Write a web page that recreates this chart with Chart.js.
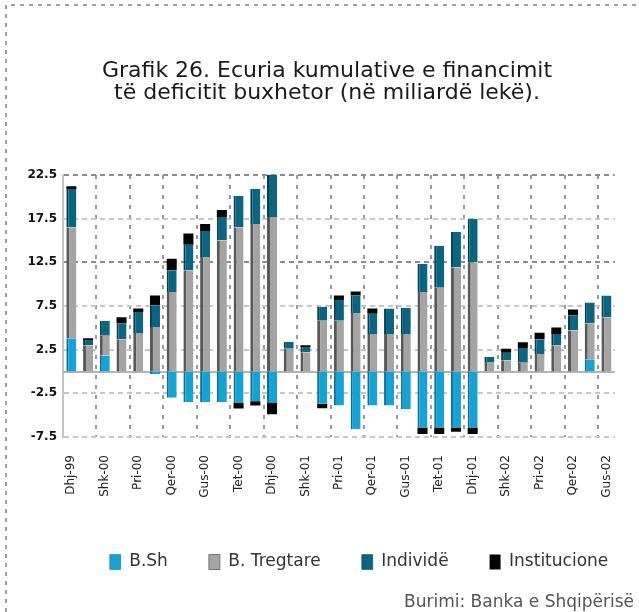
<!DOCTYPE html>
<html>
<head>
<meta charset="utf-8">
<script src="https://cdn.jsdelivr.net/npm/chart.js@4.4.0/dist/chart.umd.min.js"></script>
<style>
html,body{margin:0;padding:0;background:#fff;overflow:hidden;width:639px;height:612px;}
#wrap{position:relative;width:639px;height:612px;overflow:hidden;background:#fff;}
#c{position:absolute;left:0;top:0;}
#src{position:absolute;left:404px;top:591px;font:17px "DejaVu Sans",sans-serif;color:#555;white-space:nowrap;}
</style>
</head>
<body>
<div id="wrap">
  <canvas id="c" width="639" height="612"></canvas>
  <div id="src">Burimi: Banka e Shqipërisë</div>
</div>
<script>
// ---- data (billions of lek, cumulative) ----
const months = ['Dhj-99','Jan-00','Shk-00','Mar-00','Pri-00','Maj-00','Qer-00','Kor-00','Gus-00','Sht-00','Tet-00','Nën-00','Dhj-00',
                'Jan-01','Shk-01','Mar-01','Pri-01','Maj-01','Qer-01','Kor-01','Gus-01','Sht-01','Tet-01','Nën-01','Dhj-01',
                'Jan-02','Shk-02','Mar-02','Pri-02','Maj-02','Qer-02','Kor-02','Gus-02'];
const seriesNames = ['B.Sh','B. Tregtare','Individë','Institucione'];
const bSh        = [3.8, 0, 1.8, 0, 0, -0.3, -3.0, -3.5, -3.5, -3.5, -3.6, -3.4, -3.6, 0, 0, -3.7, -3.9, -6.6, -3.9, -3.9, -4.3, -6.4, -6.4, -6.4, -6.4, 0, 0, 0, 0, 0, 0, 1.4, 0];
const bTregtare  = [12.7, 3.0, 2.3, 3.7, 4.4, 5.1, 9.1, 11.6, 13.1, 15.0, 16.5, 16.9, 17.7, 2.6, 2.2, 5.8, 5.8, 6.7, 4.3, 4.3, 4.3, 9.1, 9.6, 11.9, 12.5, 1.1, 1.3, 1.0, 2.0, 3.0, 4.7, 4.1, 6.2];
const individe   = [4.4, 0.6, 1.7, 1.8, 2.4, 2.5, 2.5, 2.9, 3.0, 2.7, 3.6, 4.0, 4.8, 0.8, 0.6, 1.6, 2.4, 2.0, 2.3, 2.9, 3.0, 3.2, 4.8, 4.1, 5.0, 0.6, 0.85, 1.7, 1.7, 1.3, 1.7, 2.4, 2.5];
const institucione = [0.3, 0.2, 0, 0.7, 0.4, 1.1, 1.3, 1.3, 0.8, 0.8, -0.65, -0.5, -1.3, 0, 0.2, -0.5, 0.5, 0.45, 0.6, 0, 0, -0.75, -0.75, -0.5, -0.75, 0, 0.45, 0.65, 0.75, 0.75, 0.7, 0, 0];
const yTicks = [-7.5, -2.5, 2.5, 7.5, 12.5, 17.5, 22.5];
const titleLines = ['Grafik 26. Ecuria kumulative e financimit', 'të deficitit buxhetor (në miliardë lekë).'];

const FONT = '"DejaVu Sans", sans-serif';

// dotted page frame (top and left edges only)
const pageFrame = {
  id: 'pageFrame',
  beforeDraw(chart) {
    const ctx = chart.ctx;
    ctx.save();
    ctx.strokeStyle = '#a0a0a0';
    ctx.lineWidth = 2;
    ctx.setLineDash([4, 5]);
    ctx.beginPath();
    ctx.moveTo(6, 612); ctx.lineTo(6, 5); ctx.lineTo(639, 5);
    ctx.stroke();
    ctx.restore();
  }
};
const zeroLine = {
  id: 'zeroLine',
  beforeDatasetsDraw(chart) {
    const {ctx, chartArea, scales: {y}} = chart;
    const py = Math.round(y.getPixelForValue(0));
    ctx.save();
    ctx.strokeStyle = '#b4b4b4';
    ctx.lineWidth = 2;
    ctx.beginPath();
    ctx.moveTo(chartArea.left, py);
    ctx.lineTo(chartArea.right, py);
    ctx.stroke();
    ctx.restore();
  }
};
const legendShift = {
  id: 'legendShift',
  afterLayout(chart) {
    const lg = chart.legend;
    if (lg) { lg.left += 32; lg.right += 32; }
  }
};

new Chart(document.getElementById('c'), {
  type: 'bar',
  data: {
    labels: months,
    datasets: [
      {label: seriesNames[0], data: bSh, backgroundColor: '#16a3d3', borderColor: '#0b6f96',
       borderWidth: {left: 2, right: 0, top: 0, bottom: 0}, borderSkipped: false},
      {label: seriesNames[1], data: bTregtare, backgroundColor: '#a4a4a4', borderColor: '#585858',
       borderWidth: {left: 3, right: 0, top: 0, bottom: 0}, borderSkipped: false},
      {label: seriesNames[2], data: individe, backgroundColor: '#0b6580', borderColor: '#063c4c',
       borderWidth: {left: 2, right: 0, top: 0, bottom: 0}, borderSkipped: false},
      {label: seriesNames[3], data: institucione, backgroundColor: '#050505', borderWidth: 0}
    ]
  },
  options: {
    responsive: false,
    animation: false,
    datasets: {bar: {categoryPercentage: 1, barPercentage: 0.6}},
    layout: {padding: {left: 25, right: 10, top: 0, bottom: 31.5}},
    plugins: {
      title: {
        display: true, text: titleLines, color: '#1a1a1a',
        font: {family: FONT, size: 22, weight: 'normal', lineHeight: 1.0},
        padding: {top: 60, bottom: 71}
      },
      legend: {
        position: 'bottom',
        labels: {boxWidth: 11, boxHeight: 15, padding: 41, color: '#333', font: {family: FONT, size: 17}}
      },
      tooltip: {enabled: false}
    },
    scales: {
      x: {
        stacked: true,
        grid: {
          offset: true, lineWidth: 2, drawTicks: false,
          color: ctx => (ctx.index > 0 && ctx.index % 2 === 0) ? '#9a9a9a' : 'rgba(0,0,0,0)'
        },
        border: {display: false, dash: [4, 6]},
        ticks: {
          autoSkip: false, maxRotation: 90, minRotation: 90, padding: 18,
          color: '#222', font: {family: FONT, size: 12},
          callback: (v, i) => (i % 2 === 0 ? months[i] : '')
        },
        afterFit: s => { s.height = 75.5; }
      },
      y: {
        stacked: true, min: -7.5, max: 22.5,
        afterBuildTicks: s => { s.ticks = yTicks.map(v => ({value: v})); },
        afterFit: s => { s.width = 38; },
        grid: {
          lineWidth: 2, drawTicks: false,
          color: ctx => ([22.5, 12.5].includes(ctx.tick && ctx.tick.value) ? '#8c8c8c' : '#c6c6c6')
        },
        border: {display: true, color: '#c4c4c4', width: 2, dash: [5, 4]},
        ticks: {
          padding: 6, color: '#111', font: {family: FONT, size: 12, weight: 'bold'},
          callback: v => Number(v).toFixed(1)
        }
      }
    }
  },
  plugins: [pageFrame, zeroLine, legendShift]
});
</script>
</body>
</html>
